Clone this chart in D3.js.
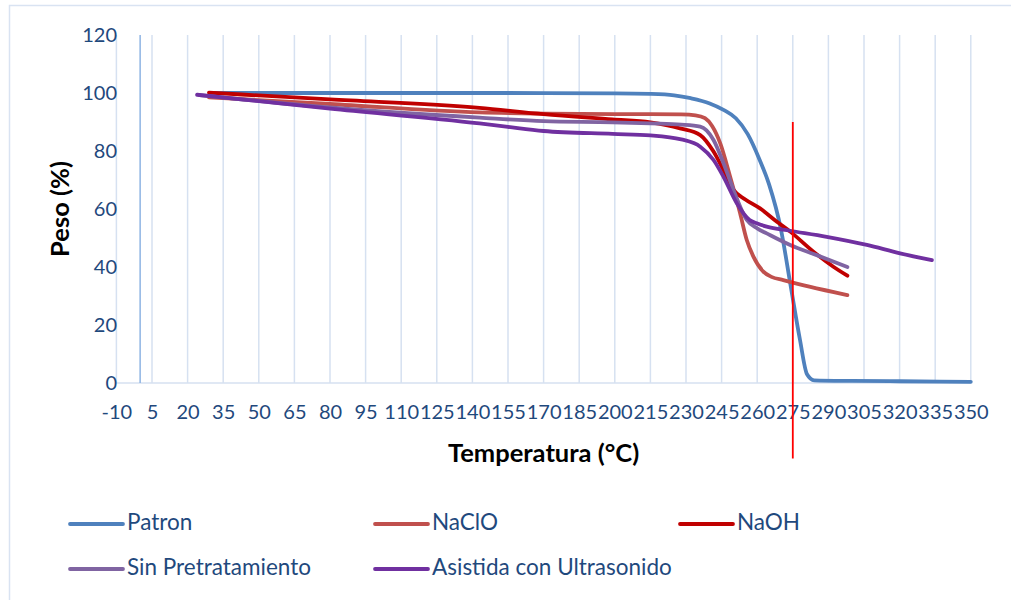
<!DOCTYPE html>
<html>
<head>
<meta charset="utf-8">
<script src="https://cdn.jsdelivr.net/npm/d3@7"></script>
<style>
  html, body { margin: 0; padding: 0; background: #ffffff; }
  svg { display: block; font-family: Lato, "Noto Sans", sans-serif; }
</style>
</head>
<body>
<svg id="chart" width="1011" height="600"></svg>
<script>
// Thermogravimetric curves: weight (%) against temperature (°C)
const xTicks = d3.range(-10, 351, 15);
const yTicks = [0, 20, 40, 60, 80, 100, 120];

const patronT = [30, 60, 100, 150, 200, 215, 225, 232, 240, 246, 251, 256, 261, 265, 270, 274, 278, 281, 284, 300, 320, 350];
const patronW = [100, 100, 100, 100, 99.9, 99.7, 99.2, 98.2, 96.4, 94.1, 91.3, 85.8, 77, 68.5, 53, 34, 15, 3, 0.9, 0.7, 0.6, 0.4];

const naclo_T = [29, 80, 143, 170, 200, 215, 228, 234, 238, 241, 244.4, 248.6, 252.8, 255.6, 258.4, 262.6, 266, 271, 282, 298];
const naclo_W = [98.5, 96.2, 93.3, 92.9, 92.7, 92.7, 92.6, 92.3, 91.3, 88.6, 82.7, 71.1, 58.5, 49.3, 43.6, 38.4, 36.6, 35.5, 33.2, 30.3];

const naoh_T = [29, 80, 143, 170, 199, 215, 227.5, 236, 241.6, 245.8, 250, 255, 261.2, 268.3, 273.9, 283.7, 292.1, 298];
const naoh_W = [100.1, 97.8, 94.9, 92.7, 90.9, 89.9, 87.8, 85.5, 79.8, 73.4, 66.6, 63.3, 60.2, 55.6, 52.2, 45.3, 40.1, 37.0];

const sinT = [25, 80, 143, 170, 199, 215, 228, 236, 241.6, 245.8, 250, 255.6, 260, 264, 273.9, 285.1, 298];
const sinW = [99.3, 95.0, 91.5, 90.3, 89.9, 89.5, 89.1, 88.4, 83.8, 75.8, 66.6, 56.2, 53.3, 51.6, 47.6, 44.1, 40.0];

const ultraT = [24, 80, 143, 155, 170, 199, 215, 228, 236, 241.6, 245.8, 251.4, 256.8, 259.8, 264, 273.9, 289.3, 306.2, 320.2, 333.6];
const ultraW = [99.4, 94.6, 89.5, 88.3, 86.9, 85.9, 85.4, 84.0, 81.5, 76.9, 71.1, 62, 56.2, 55.1, 53.9, 52.5, 50.4, 47.6, 44.7, 42.4];

// Reference line marking 275 °C
const markerT = [275, 275];
const markerW = [90, -26];

const seriesNames = ["Patron", "NaClO", "NaOH", "Sin Pretratamiento", "Asistida con Ultrasonido"];
const seriesColors = ["#4f81bd", "#c0504d", "#c00000", "#8064a2", "#7030a0"];
const seriesT = [patronT, naclo_T, naoh_T, sinT, ultraT];
const seriesW = [patronW, naclo_W, naoh_W, sinW, ultraW];

const svg = d3.select("#chart");
const textColor = "#1f497d";
const gridColor = "#d6e1f1";

// Outer chart frame
svg.append("rect")
  .attr("x", 9.5).attr("y", 5.5)
  .attr("width", 1010).attr("height", 600)
  .attr("fill", "none").attr("stroke", "#d9e3f2").attr("stroke-width", 1.5);

const x = d3.scaleLinear().domain([-10, 350]).range([116.4, 970.8]);
const y = d3.scaleLinear().domain([0, 120]).range([383, 35]);

// Vertical gridlines at each major tick
svg.append("g").selectAll("line").data(xTicks.filter(t => t !== 0)).join("line")
  .attr("x1", d => x(d)).attr("x2", d => x(d))
  .attr("y1", y(120)).attr("y2", y(0))
  .attr("stroke", gridColor).attr("stroke-width", 1.5);

// Horizontal axis line at 0 %
svg.append("line")
  .attr("x1", x(-10)).attr("x2", x(350))
  .attr("y1", y(0)).attr("y2", y(0))
  .attr("stroke", gridColor).attr("stroke-width", 1.5);

// Vertical axis line crossing at 0 °C
svg.append("line")
  .attr("x1", x(0)).attr("x2", x(0))
  .attr("y1", y(120)).attr("y2", y(0))
  .attr("stroke", "#8eb4e3").attr("stroke-width", 1.5);

// X tick labels
const xAxis = svg.append("g")
  .attr("transform", `translate(0,${y(0)})`)
  .call(d3.axisBottom(x).tickValues(xTicks).tickSize(0).tickPadding(22).tickFormat(d => String(d)));
xAxis.select(".domain").remove();
xAxis.selectAll("text").attr("fill", textColor).attr("font-size", 20).style("font-family", "Lato");

// Y tick labels
const yAxis = svg.append("g")
  .attr("transform", `translate(117,0)`)
  .call(d3.axisLeft(y).tickValues(yTicks).tickSize(0).tickPadding(0).tickFormat(d => String(d)));
yAxis.select(".domain").remove();
yAxis.selectAll("text").attr("fill", textColor).attr("font-size", 20).style("font-family", "Lato");

// Axis titles
svg.append("text")
  .attr("x", (x(-10) + x(350)) / 2).attr("y", 455)
  .attr("text-anchor", "middle").attr("dominant-baseline", "middle")
  .attr("font-size", 25.5).attr("font-weight", "bold").attr("fill", "#000")
  .text("Temperatura (°C)");

svg.append("text")
  .attr("transform", `translate(62,${(y(0) + y(120)) / 2}) rotate(-90)`)
  .attr("text-anchor", "middle").attr("dominant-baseline", "middle")
  .attr("font-size", 25.5).attr("font-weight", "bold").attr("fill", "#000")
  .text("Peso (%)");

// Series curves
const line = d3.line()
  .x(d => x(d[0])).y(d => y(d[1]))
  .curve(d3.curveMonotoneX);

seriesNames.forEach((name, i) => {
  const pts = seriesT[i].map((t, j) => [t, seriesW[i][j]]);
  svg.append("path")
    .datum(pts)
    .attr("d", line)
    .attr("fill", "none")
    .attr("stroke", seriesColors[i])
    .attr("stroke-width", 3.8)
    .attr("stroke-linecap", "round")
    .attr("stroke-linejoin", "round");
});

// 275 °C marker
svg.append("line")
  .attr("x1", x(markerT[0])).attr("x2", x(markerT[1]))
  .attr("y1", y(markerW[0])).attr("y2", y(markerW[1]))
  .attr("stroke", "#ff0000").attr("stroke-width", 1.8);

// Legend
const legendPos = [[70, 524], [375, 524], [680, 524], [70, 569], [375, 569]];
seriesNames.forEach((name, i) => {
  const [lx, ly] = legendPos[i];
  svg.append("line")
    .attr("x1", lx).attr("x2", lx + 53)
    .attr("y1", ly).attr("y2", ly)
    .attr("stroke", seriesColors[i]).attr("stroke-width", 3.8)
    .attr("stroke-linecap", "round");
  svg.append("text")
    .attr("x", lx + 57).attr("y", ly)
    .attr("dominant-baseline", "middle")
    .attr("font-size", 22.5).attr("fill", textColor)
    .text(name);
});
</script>
</body>
</html>
